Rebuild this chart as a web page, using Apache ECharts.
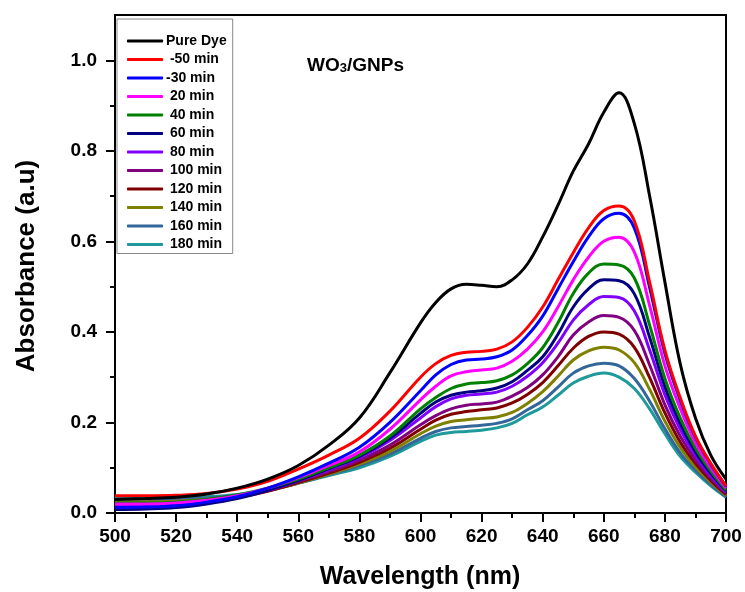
<!DOCTYPE html>
<html><head><meta charset="utf-8">
<script src="https://cdn.jsdelivr.net/npm/echarts@6/dist/echarts.min.js"></script>
<style>html,body{margin:0;padding:0;background:#fff}#c{width:745px;height:592px}</style>
</head><body><div id="c"></div>
<script>
var wavelengths = [500,510,520,530,540,550,560,570,580,590,600,605,610,615,620,625,630,635,640,645,650,655,660,665,670,675,680,685,690,695,700];
var seriesNames = ['Pure Dye',' -50 min','-30 min',' 20 min',' 40 min',' 60 min',' 80 min',' 100 min',' 120 min',' 140 min',' 160 min',' 180 min'];
var seriesColors = ['#000000','#ff0000','#0000ff','#ff00ff','#008000','#000080','#8000ff','#800080','#800000','#808000','#336699','#1f9999'];
var yMajorTicks = [0, 0.2, 0.4, 0.6, 0.8, 1.0];
var yMinorTicks = [0.1, 0.3, 0.5, 0.7, 0.9];
var pureDye = [0.030,0.032,0.035,0.042,0.055,0.075,0.105,0.15,0.21,0.31,0.42,0.465,0.495,0.505,0.503,0.50,0.515,0.55,0.61,0.68,0.755,0.815,0.885,0.928,0.86,0.70,0.51,0.33,0.21,0.128,0.075];
var m50 = [0.038,0.038,0.039,0.043,0.053,0.07,0.097,0.128,0.165,0.225,0.30,0.33,0.348,0.355,0.357,0.362,0.378,0.41,0.455,0.515,0.575,0.63,0.668,0.678,0.645,0.51,0.36,0.255,0.17,0.11,0.06];
var m30 = [0.012,0.013,0.016,0.024,0.036,0.055,0.08,0.11,0.145,0.2,0.27,0.305,0.328,0.338,0.34,0.345,0.36,0.392,0.435,0.495,0.555,0.61,0.65,0.662,0.629,0.498,0.352,0.249,0.167,0.108,0.059];
var t20 = [0.02,0.02,0.022,0.028,0.038,0.055,0.078,0.105,0.135,0.185,0.25,0.28,0.303,0.312,0.316,0.32,0.335,0.362,0.40,0.455,0.515,0.565,0.60,0.609,0.576,0.458,0.325,0.231,0.155,0.10,0.055];
var t40 = [0.022,0.022,0.024,0.03,0.04,0.055,0.075,0.1,0.128,0.17,0.23,0.255,0.275,0.285,0.288,0.292,0.305,0.33,0.365,0.42,0.485,0.53,0.55,0.548,0.519,0.415,0.297,0.21,0.143,0.093,0.051];
var t60 = [0.008,0.009,0.012,0.02,0.032,0.05,0.072,0.098,0.125,0.165,0.22,0.245,0.26,0.267,0.27,0.276,0.29,0.315,0.345,0.395,0.455,0.495,0.515,0.513,0.484,0.388,0.279,0.198,0.135,0.088,0.049];
var t80 = [0.015,0.016,0.018,0.024,0.035,0.05,0.072,0.096,0.122,0.16,0.21,0.235,0.252,0.26,0.263,0.267,0.28,0.302,0.332,0.375,0.426,0.46,0.478,0.476,0.446,0.36,0.261,0.185,0.127,0.083,0.047];
var t100 = [0.02,0.02,0.022,0.027,0.036,0.05,0.07,0.092,0.117,0.15,0.195,0.215,0.23,0.238,0.241,0.245,0.258,0.277,0.305,0.345,0.393,0.422,0.436,0.432,0.403,0.327,0.239,0.17,0.118,0.077,0.044];
var t120 = [0.018,0.018,0.02,0.025,0.034,0.048,0.067,0.088,0.112,0.143,0.185,0.205,0.218,0.224,0.228,0.232,0.243,0.262,0.288,0.325,0.364,0.39,0.40,0.395,0.366,0.299,0.221,0.157,0.11,0.072,0.041];
var t140 = [0.025,0.025,0.026,0.03,0.037,0.049,0.066,0.086,0.108,0.136,0.175,0.192,0.202,0.206,0.209,0.212,0.222,0.242,0.268,0.302,0.338,0.358,0.366,0.36,0.332,0.273,0.203,0.145,0.102,0.068,0.039];
var t160 = [0.03,0.03,0.03,0.033,0.039,0.05,0.066,0.085,0.105,0.13,0.165,0.18,0.188,0.191,0.194,0.198,0.208,0.228,0.248,0.278,0.309,0.325,0.331,0.325,0.297,0.247,0.186,0.133,0.095,0.063,0.036];
var t180 = [0.034,0.034,0.034,0.036,0.041,0.051,0.066,0.083,0.10,0.125,0.158,0.172,0.178,0.18,0.183,0.188,0.198,0.217,0.234,0.26,0.287,0.302,0.309,0.30,0.275,0.23,0.175,0.125,0.09,0.06,0.035];
var allValues = [pureDye,m50,m30,t20,t40,t60,t80,t100,t120,t140,t160,t180];

var chart = echarts.init(document.getElementById('c'));
var FONT = 'Liberation Sans';
var series = allValues.map(function(vals, i){
  return {
    name: seriesNames[i], type: 'line', smooth: 0.4, showSymbol: false,
    data: wavelengths.map(function(w, j){ return [w, vals[j]]; }),
    lineStyle: {color: seriesColors[i], width: 3},
    itemStyle: {color: seriesColors[i]},
    z: 20 - i
  };
});
chart.setOption({
  animation: false,
  backgroundColor: '#fff',
  grid: {left: 115, right: 19, top: 15, bottom: 79, show: true, borderColor: '#000', borderWidth: 2, backgroundColor: 'transparent'},
  xAxis: {
    type: 'value', min: 500, max: 700, interval: 20,
    axisLine: {show: true, lineStyle: {color: '#000', width: 2}},
    axisTick: {show: true, inside: false, length: 9, lineStyle: {color: '#000', width: 2}},
    minorTick: {show: true, splitNumber: 2, length: 5, lineStyle: {color: '#000', width: 2}},
    splitLine: {show: false},
    axisLabel: {color: '#000', fontFamily: FONT, fontWeight: 'bold', fontSize: 19, margin: 14}
  },
  yAxis: [{
    type: 'value', min: 0, max: 1.1, interval: 0.2,
    axisLine: {show: true, lineStyle: {color: '#000', width: 2}},
    axisTick: {show: true, inside: false, length: 9, customValues: yMajorTicks, lineStyle: {color: '#000', width: 2}},
    splitLine: {show: false},
    axisLabel: {color: '#000', fontFamily: FONT, fontWeight: 'bold', fontSize: 19, margin: 18, customValues: yMajorTicks,
      formatter: function(v){ return v.toFixed(1); }}
  }, {
    type: 'value', min: 0, max: 1.1, position: 'left', offset: 0,
    axisLine: {show: false},
    axisTick: {show: true, inside: false, length: 5, customValues: yMinorTicks, lineStyle: {color: '#000', width: 2}},
    axisLabel: {show: false},
    splitLine: {show: false}
  }],
  legend: {
    orient: 'vertical', left: 117, top: 19,
    padding: [15, 6, 2, 10],
    itemWidth: 36, itemHeight: 3, itemGap: 4.5,
    icon: 'roundRect',
    backgroundColor: '#fff', borderColor: '#888', borderWidth: 1,
    textStyle: {color: '#000', fontFamily: FONT, fontWeight: 'bold', fontSize: 14, lineHeight: 14, padding: [0,0,0,-2]},
    data: seriesNames
  },
  graphic: [
    {type: 'text', left: 307, top: 56, z: 100,
     style: {text: '{a|WO}{s|3}{a|/GNPs}', rich: {
        a: {fontFamily: FONT, fontWeight: 'bold', fontSize: 19, fill: '#000', verticalAlign: 'bottom'},
        s: {fontFamily: FONT, fontWeight: 'bold', fontSize: 13, fill: '#000', padding: [10,0,0,0], verticalAlign: 'bottom'}
     }}},
    {type: 'text', x: 420, y: 577, z: 100,
     style: {text: 'Wavelength (nm)', fontFamily: FONT, fontWeight: 'bold', fontSize: 25, fill: '#000', align: 'center', verticalAlign: 'middle'}},
    {type: 'text', x: 27, y: 266, rotation: Math.PI/2, z: 100,
     style: {text: 'Absorbance (a.u)', fontFamily: FONT, fontWeight: 'bold', fontSize: 26, fill: '#000', align: 'center', verticalAlign: 'middle'}}
  ],
  series: series
});
</script></body></html>
